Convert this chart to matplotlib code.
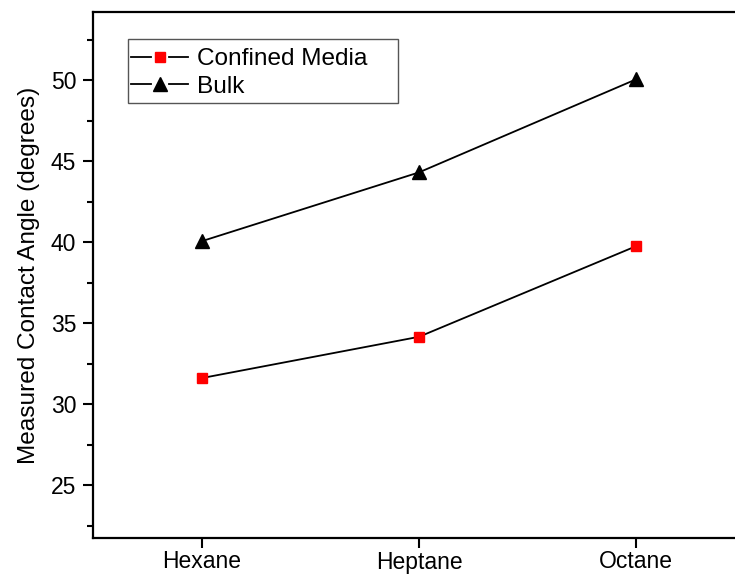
import matplotlib
matplotlib.use("Agg")
import matplotlib.pyplot as plt
from matplotlib.ticker import MultipleLocator
from matplotlib.legend_handler import HandlerBase
from matplotlib.lines import Line2D
from matplotlib.patches import Rectangle

plt.rcParams['font.family'] = ['Liberation Sans', 'DejaVu Sans']

solvents = ["Hexane", "Heptane", "Octane"]
confined = [31.6, 34.15, 39.75]
bulk = [40.05, 44.3, 50.05]


class HandlerOrigin(HandlerBase):
    def create_artists(self, legend, orig_handle, xdescent, ydescent,
                       width, height, fontsize, trans):
        y = height / 2 - ydescent
        gap = width * 0.16
        mid = width / 2 - xdescent
        l1 = Line2D([-xdescent, mid - gap], [y, y], color=orig_handle.get_color(),
                    lw=orig_handle.get_linewidth())
        l2 = Line2D([mid + gap, width - xdescent], [y, y], color=orig_handle.get_color(),
                    lw=orig_handle.get_linewidth())
        m = Line2D([mid], [y], linestyle='none', marker=orig_handle.get_marker(),
                   markersize=orig_handle.get_markersize(),
                   markerfacecolor=orig_handle.get_markerfacecolor(),
                   markeredgecolor=orig_handle.get_markeredgecolor())
        for a in (l1, l2, m):
            a.set_transform(trans)
        return [l1, l2, m]


fig = plt.figure(figsize=(7.35, 5.75), dpi=100)
W, H = 735, 575
left, right, top, bottom = 93, 745, 12, 538
ax = fig.add_axes([left / W, 1 - bottom / H, (right - left) / W, (bottom - top) / H])

x = list(range(len(solvents)))
ax.plot(x, confined, color='black', lw=1.3, marker='s', markersize=7,
        markerfacecolor='red', markeredgecolor='red', label='Confined Media')
ax.plot(x, bulk, color='black', lw=1.3, marker='^', markersize=10,
        markerfacecolor='black', markeredgecolor='black', label='Bulk')

ax.set_xlim(-0.5, 2.5)
ax.set_ylim(21.73, 54.2)
ax.set_xticks(x)
ax.set_xticklabels(solvents)
ax.yaxis.set_major_locator(MultipleLocator(5))
ax.yaxis.set_minor_locator(MultipleLocator(2.5))
ax.tick_params(axis='both', which='major', direction='out', length=7, width=1.5,
               labelsize=16.5)
ax.tick_params(axis='y', which='major', pad=5)
ax.tick_params(axis='x', which='major', pad=2)
ax.tick_params(axis='y', which='minor', direction='out', length=4.5, width=1.5)
for s in ax.spines.values():
    s.set_linewidth(1.6)

ax.set_ylabel('Measured Contact Angle (degrees)', fontsize=17.6, labelpad=8)

# legend frame (Origin style, fixed box)
fig.patches.append(Rectangle((128 / W, 1 - 103 / H), (398 - 128) / W, (103 - 39) / H,
                             transform=fig.transFigure, fill=False,
                             edgecolor='#555555', linewidth=1.0, zorder=5))

leg = ax.legend(loc='upper left',
                bbox_to_anchor=((131 - left) / (right - left), 1 - (48 - top) / (bottom - top)),
                fontsize=17.6, frameon=False, handlelength=2.35,
                borderpad=0, labelspacing=0.22, handletextpad=0.33, borderaxespad=0,
                handler_map={Line2D: HandlerOrigin()})

fig.savefig('out.png', dpi=100)
